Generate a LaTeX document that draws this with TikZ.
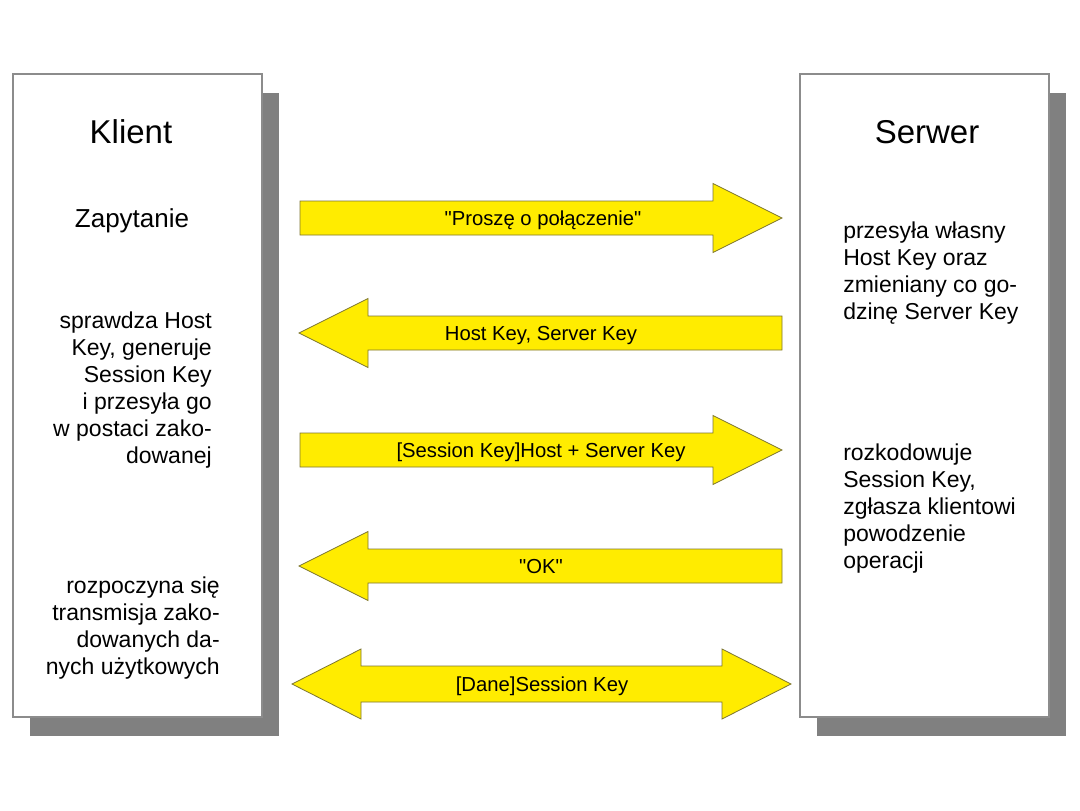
\documentclass[tikz,border=0pt]{standalone}
\usepackage{fontspec}
\setmainfont{Liberation Sans}
\definecolor{arrowfill}{RGB}{255,236,0}
\definecolor{arrowline}{RGB}{125,118,50}
\definecolor{shadowgray}{RGB}{128,128,128}
\definecolor{boxline}{RGB}{140,140,140}
\tikzset{
  shadowbox/.style={fill=shadowgray},
  mainbox/.style={draw=boxline, line width=1pt, fill=white},
  blockarrow/.style={draw=arrowline, line width=0.6pt, fill=arrowfill, line join=miter},
  title/.style={font=\fontsize{24.75}{29}\selectfont, inner sep=0pt, anchor=base},
  subtitle/.style={font=\fontsize{19.5}{23}\selectfont, inner sep=0pt, anchor=base},
  bodyright/.style={font=\fontsize{17.25}{20.25}\selectfont, inner sep=0pt, align=right, anchor=north east},
  bodyleft/.style={font=\fontsize{17.25}{20.25}\selectfont, inner sep=0pt, align=left, anchor=north west},
  arrowlabel/.style={font=\fontsize{15.2}{18}\selectfont, inner sep=0pt, anchor=base}
}
\newcommand{\firststrut}{\rule{0pt}{0.8em}}
\begin{document}
\begin{tikzpicture}[x=0.75pt,y=-0.75pt]
\useasboundingbox (0,0) rectangle (1080,810);
\fill[white] (0,0) rectangle (1080,810);

% boxes with shadows
\fill[shadowbox] (30,93) rectangle (279,736);
\draw[mainbox] (13,74) rectangle (262,717);
\fill[shadowbox] (817,93) rectangle (1066,736);
\draw[mainbox] (800,74) rectangle (1049,717);

% titles
\node[title] (klient) at (131,143) {Klient};
\node[title] (serwer) at (927,143) {Serwer};
\node[subtitle] (zapytanie) at (132,227) {Zapytanie};

% client texts
\node[bodyright] (sprawdza) at (212,309.6) {\firststrut sprawdza Host\\Key, generuje\\Session Key\\i przesyła go\\w postaci zako-\\dowanej};
\node[bodyright] (rozpoczyna) at (220,574.6) {\firststrut rozpoczyna się\\transmisja zako-\\dowanych da-\\nych użytkowych};

% server texts
\node[bodyleft] (przesyla) at (843,219.6) {\firststrut przesyła własny\\Host Key oraz\\zmieniany co go-\\dzinę Server Key};
\node[bodyleft] (rozkodowuje) at (843,441.6) {\firststrut rozkodowuje\\Session Key,\\zgłasza klientowi\\powodzenie\\operacji};

% arrows
\draw[blockarrow] (300,201) -- (713,201) -- (713,183.5) -- (782,218) -- (713,252.5) -- (713,235) -- (300,235) -- cycle;
\draw[blockarrow] (782,316) -- (368,316) -- (368,298.5) -- (299,333) -- (368,367.5) -- (368,350) -- (782,350) -- cycle;
\draw[blockarrow] (300,433) -- (713,433) -- (713,415.5) -- (782,450) -- (713,484.5) -- (713,467) -- (300,467) -- cycle;
\draw[blockarrow] (782,549) -- (368,549) -- (368,531.5) -- (299,566) -- (368,600.5) -- (368,583) -- (782,583) -- cycle;
\draw[blockarrow] (292,684) -- (361,649) -- (361,666) -- (722,666) -- (722,649) -- (791,684) -- (722,719) -- (722,702) -- (361,702) -- (361,719) -- cycle;

% arrow labels
\node[arrowlabel] (l1) at (543,225) {\textquotedbl Proszę o połączenie\textquotedbl};
\node[arrowlabel] (l2) at (541,340) {Host Key, Server Key};
\node[arrowlabel] (l3) at (541,457) {[Session Key]Host + Server Key};
\node[arrowlabel] (l4) at (541,573) {\textquotedbl OK\textquotedbl};
\node[arrowlabel] (l5) at (542,691) {[Dane]Session Key};
\end{tikzpicture}
\end{document}
